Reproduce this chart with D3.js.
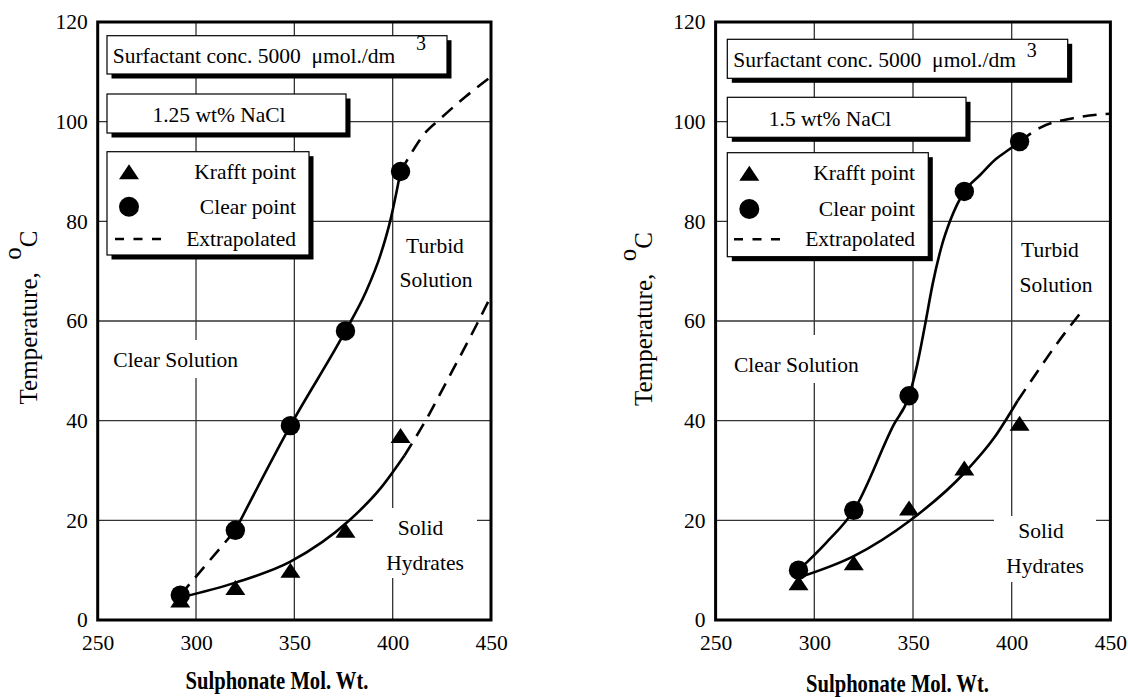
<!DOCTYPE html>
<html><head><meta charset="utf-8">
<script src="https://cdn.jsdelivr.net/npm/d3@7"></script>
<style>
body{margin:0;background:#fff}
svg{display:block}
</style>
</head><body>
<svg id="c" width="1128" height="697"></svg>
<script>
// ---------------- data ----------------
const molWt   = [292, 320, 348, 376, 404];
const xTicks  = [250, 300, 350, 400, 450];
const yTicks  = [0, 20, 40, 60, 80, 100, 120];

const clearL  = [5, 18, 39, 58, 90];
const krafftL = [4, 6.5, 10, 18, 37];
const clearR  = [10, 22, 45, 86, 96];
const krafftR = [7.5, 11.5, 22.5, 30.5, 39.5];

// fitted curves
const clearFitL  = [[320,18],[348,39],[376,58],[386,65.5],[394,73.5],[399,80.5],[402,86],[404,90]];
const clearExtL1 = [[292,5],[320,18]];
const clearExtL2 = [[404,90],[408,92.7],[416,97.5],[424,100.5],[437,105],[450,109]];
const krafftFitL = [[292,4.5],[320,7.5],[348,11.7],[378,20],[394,26.5],[406,33]];
const krafftExtL = [[406,33],[416,39.5],[429,49],[443,59.5],[450,65]];

const clearFitR  = [[292,10],[306,15.5],[320,22],[340,39],[348,45],[352,51],[356,59],[360,67.5],[364.5,75],[369,80.3],[376,86],[384,89.3],[392,92.5],[399,94.5],[404,96]];
const clearExtR  = [[404,96],[414,98.7],[431,100.7],[450,101.6]];
const krafftFitR = [[292,8.5],[320,12.8],[348,19.8],[376,29.5],[391,36.5],[403,44]];
const krafftExtR = [[403,44],[409,47.5],[423,55.5],[436,62.2]];

const saltLabels   = ["1.25 wt% NaCl", "1.5 wt% NaCl"];
const concLabel    = "Surfactant conc. 5000  \u03BCmol./dm";
const concSup      = "3";
const legendLabels = ["Krafft point", "Clear point", "Extrapolated"];
const regionLabels = ["Clear Solution", "Turbid", "Solution", "Solid", "Hydrates"];
const xTitle = "Sulphonate Mol. Wt.";
const yTitleMain = "Temperature,", yTitleSup = "o", yTitleUnit = "C";

// ---------------- layout ----------------
const FONT = "'Liberation Serif'";
const panels = [
  { x0: 97.7, x1: 491, clear: clearL, krafft: krafftL,
    solid: [clearFitL, krafftFitL], dashed: [clearExtL1, clearExtL2, krafftExtL],
    salt: saltLabels[0],
    box1: [107, 35.7, 340, 38.3], conc: [112.7, 63.3], sup: [416, 50],
    box2: [107, 94, 239, 39], saltPos: [219, 121.7],
    box3: [107, 151.7, 202, 103.3], legSym: 129, legY: [171.7, 206.7, 239], legTextX: 296, legDash: [115, 161],
    regions: [ {t:0, x:113.3, y:366.7, a:"start"}, {t:1, x:435, y:253, a:"middle"}, {t:2, x:436, y:286.7, a:"middle"},
               {t:3, x:420.5, y:535, a:"middle"}, {t:4, x:425, y:570, a:"middle"} ],
    bgs: [[107,340,138,38],[397,230,79,66],[373,508,104,70]],
    yTitle: [37, 317.5], xTitlePos: [277, 689]
  },
  { x0: 715.6, x1: 1110.4, clear: clearR, krafft: krafftR,
    solid: [clearFitR, krafftFitR], dashed: [clearExtR, krafftExtR],
    salt: saltLabels[1],
    box1: [727.3, 39.3, 340.4, 39], conc: [733.3, 66.7], sup: [1026.7, 57],
    box2: [727.3, 97.3, 238.7, 40], saltPos: [830, 126.3],
    box3: [727.3, 152.7, 201, 104], legSym: 749.3, legY: [173.3, 209, 239.3], legTextX: 915, legDash: [734, 780],
    regions: [ {t:0, x:734, y:371.7, a:"start"}, {t:1, x:1050, y:256.7, a:"middle"}, {t:2, x:1056, y:291.7, a:"middle"},
               {t:3, x:1041, y:538, a:"middle"}, {t:4, x:1045, y:573, a:"middle"} ],
    bgs: [[728,335,138,48],[1014,234,86,64],[994,516,102,66]],
    yTitle: [652, 319], xTitlePos: [897.5, 691.7]
  }
];

const svg = d3.select("#c");
const triPath = "M0,-7.5L10,7.5L-10,7.5Z";

panels.forEach(p => {
  const x = d3.scaleLinear().domain([250, 450]).range([p.x0, p.x1]);
  const y = d3.scaleLinear().domain([0, 120]).range([620, 22]);
  const g = svg.append("g");

  // grid
  g.selectAll(".gx").data(xTicks.slice(1, -1)).join("line")
    .attr("x1", d => x(d)).attr("x2", d => x(d)).attr("y1", y(0)).attr("y2", y(120))
    .attr("stroke", "#333").attr("stroke-width", 1.3);
  g.selectAll(".gy").data(yTicks.slice(1, -1)).join("line")
    .attr("y1", d => y(d)).attr("y2", d => y(d)).attr("x1", x(250)).attr("x2", x(450))
    .attr("stroke", "#333").attr("stroke-width", 1.3);

  // axes tick labels
  const xAxis = d3.axisBottom(x).tickValues(xTicks).tickSize(0).tickPadding(10).tickFormat(d3.format("d"));
  const ax = g.append("g").attr("transform", `translate(0,${y(0)})`).call(xAxis);
  ax.select(".domain").remove();
  ax.attr("font-family", null).attr("font-size", null);
  ax.selectAll("text").attr("font-size", 21.5).attr("fill", "#000").attr("dy", null).attr("y", 30);
  const yAxis = d3.axisLeft(y).tickValues(yTicks).tickSize(0).tickPadding(10).tickFormat(d3.format("d"));
  const ay = g.append("g").attr("transform", `translate(${x(250)},0)`).call(yAxis);
  ay.select(".domain").remove();
  ay.attr("font-family", null).attr("font-size", null);
  ay.selectAll("text").attr("font-size", 21.5).attr("fill", "#000");

  // region label backgrounds + labels
  p.bgs.forEach(b => g.append("rect").attr("x", b[0]).attr("y", b[1]).attr("width", b[2]).attr("height", b[3]).attr("fill", "#fff"));
  p.regions.forEach(r => g.append("text").attr("x", r.x).attr("y", r.y).attr("text-anchor", r.a)
    .attr("font-size", 21.5).text(regionLabels[r.t]));

  // curves
  const line = d3.line().x(d => x(d[0])).y(d => y(d[1])).curve(d3.curveMonotoneX);
  p.solid.forEach(c => g.append("path").attr("d", line(c)).attr("fill", "none").attr("stroke", "#000").attr("stroke-width", 2.6));
  p.dashed.forEach(c => g.append("path").attr("d", line(c)).attr("fill", "none").attr("stroke", "#000")
    .attr("stroke-width", 2.6).attr("stroke-dasharray", "14,9"));

  // markers
  g.selectAll(".tri").data(molWt.map((m, i) => [m, p.krafft[i]])).join("path")
    .attr("d", triPath).attr("transform", d => `translate(${x(d[0])},${y(d[1])})`).attr("fill", "#000");
  g.selectAll(".cir").data(molWt.map((m, i) => [m, p.clear[i]])).join("circle")
    .attr("cx", d => x(d[0])).attr("cy", d => y(d[1])).attr("r", 9.7).attr("fill", "#000");

  // boxes with shadows
  const box = b => {
    g.append("rect").attr("x", b[0] + 4.5).attr("y", b[1] + 4.5).attr("width", b[2]).attr("height", b[3]).attr("fill", "#000");
    g.append("rect").attr("x", b[0]).attr("y", b[1]).attr("width", b[2]).attr("height", b[3])
      .attr("fill", "#fff").attr("stroke", "#000").attr("stroke-width", 1.2);
  };
  box(p.box1);
  g.append("text").attr("x", p.conc[0]).attr("y", p.conc[1]).attr("font-size", 21.5)
    .style("white-space", "pre").text(concLabel);
  g.append("text").attr("x", p.sup[0]).attr("y", p.sup[1]).attr("font-size", 20).text(concSup);
  box(p.box2);
  g.append("text").attr("x", p.saltPos[0]).attr("y", p.saltPos[1]).attr("text-anchor", "middle").attr("font-size", 21.5).text(p.salt);
  box(p.box3);
  g.append("path").attr("d", triPath).attr("transform", `translate(${p.legSym},${p.legY[0]})`).attr("fill", "#000");
  g.append("circle").attr("cx", p.legSym).attr("cy", p.legY[1]).attr("r", 10).attr("fill", "#000");
  g.append("line").attr("x1", p.legDash[0]).attr("x2", p.legDash[1]).attr("y1", p.legY[2]).attr("y2", p.legY[2])
    .attr("stroke", "#000").attr("stroke-width", 2.6).attr("stroke-dasharray", "9,9.5");
  legendLabels.forEach((l, i) => g.append("text").attr("x", p.legTextX).attr("y", p.legY[i] + 7)
    .attr("text-anchor", "end").attr("font-size", 21.5).text(l));

  // frame
  g.append("rect").attr("x", x(250)).attr("y", y(120)).attr("width", x(450) - x(250)).attr("height", y(0) - y(120))
    .attr("fill", "none").attr("stroke", "#000").attr("stroke-width", 3);

  // axis titles
  g.append("text").attr("x", p.xTitlePos[0]).attr("y", p.xTitlePos[1]).attr("text-anchor", "middle")
    .attr("font-size", 26).attr("font-weight", "bold").attr("textLength", 183).attr("lengthAdjust", "spacingAndGlyphs")
    .text(xTitle);
  const yt = g.append("text").attr("transform", `translate(${p.yTitle[0]},${p.yTitle[1]}) rotate(-90)`)
    .attr("text-anchor", "middle").attr("font-size", 25).style("white-space", "pre");
  yt.append("tspan").text(yTitleMain + "  ");
  yt.append("tspan").attr("dy", -16).text(yTitleSup);
  yt.append("tspan").attr("dy", 16).text(yTitleUnit);
});

svg.selectAll("text").style("font-family", FONT).style("fill", "#000");
</script>
</body></html>
